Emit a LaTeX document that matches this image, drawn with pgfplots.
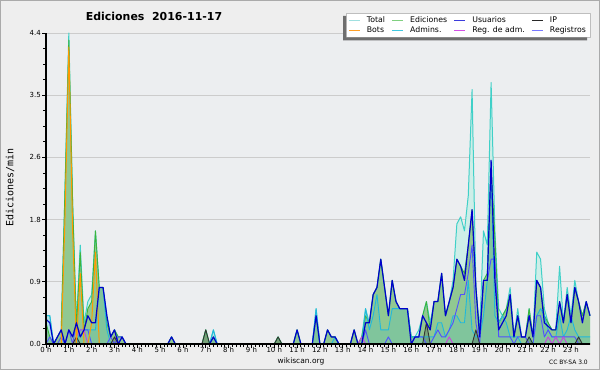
\documentclass[border=0pt]{standalone}
\usepackage{pgfplots}
\pgfplotsset{compat=1.18}
\usepackage{pgfplotstable}
\usepackage{fontspec}
\setmainfont{DejaVu Sans}
\newfontfamily\monofont{DejaVu Sans Mono}
\usetikzlibrary{calc}
\definecolor{bgout}{RGB}{238,238,238}
\definecolor{plotbg}{RGB}{236,238,240}
\definecolor{gridc}{RGB}{204,204,204}
\definecolor{totline}{RGB}{64,208,200}
\definecolor{totfill}{RGB}{206,238,232}
\definecolor{edfill}{RGB}{145,200,145}
\definecolor{edline}{RGB}{60,180,60}
\definecolor{usu}{RGB}{0,0,204}
\definecolor{ipc}{RGB}{50,50,50}
\definecolor{bots}{RGB}{255,153,0}
\definecolor{adm}{RGB}{32,184,220}
\definecolor{regadm}{RGB}{204,64,224}
\definecolor{reg}{RGB}{80,80,255}
\definecolor{lgTot}{RGB}{160,224,224}
\definecolor{lgEd}{RGB}{128,208,128}
\definecolor{lgUsu}{RGB}{60,60,220}
\definecolor{lgIP}{RGB}{40,40,40}
\definecolor{lgBots}{RGB}{255,160,40}
\definecolor{lgAdm}{RGB}{64,200,224}
\definecolor{lgRA}{RGB}{210,80,230}
\definecolor{lgReg}{RGB}{120,120,255}
\definecolor{frame}{RGB}{170,170,170}
\definecolor{legdraw}{RGB}{190,190,190}
\definecolor{shadowc}{RGB}{110,110,110}

\pgfplotstableread{
i T E U I B A R G
0 0.4 0.3 0.35 0 0 0.4 0 0
1 0.4 0.1 0.3 0 0 0.4 0 0.1
2 0 0 0 0 0 0 0 0
3 0.1 0.1 0.1 0 0 0 0 0
4 0.2 0.2 0.2 0 0 0 0 0.1
5 2.2 2.2 0 0 1.8 0 0 0
6 4.4 4.3 0.2 0 4.2 0 0 0.2
7 2.0 2.0 0.1 0 1.6 0 0 0
8 0.3 0.2 0.3 0.1 0 0 0.1 0.3
9 1.4 1.3 0.1 0 1.0 0.2 0.2 0.1
10 0.3 0.2 0.2 0 0 0.2 0.2 0.2
11 0.6 0.5 0.4 0 0 0.2 0 0.2
12 0.7 0.6 0.3 0 0.3 0.2 0 0
13 1.6 1.6 0.3 0 1.3 0.2 0 0
14 0.8 0.8 0.8 0 0 0.8 0 0
15 0.8 0.8 0.8 0 0 0.8 0 0
16 0.4 0.3 0.4 0 0 0.2 0 0
17 0.1 0.1 0.1 0 0 0 0 0.1
18 0.2 0.2 0.2 0.1 0 0 0 0
19 0.1 0.1 0 0 0 0 0 0.1
20 0.1 0.1 0.1 0 0 0 0 0.1
21 0 0 0 0 0 0 0 0
22 0 0 0 0 0 0 0 0
23 0 0 0 0 0 0 0 0
24 0 0 0 0 0 0 0 0
25 0 0 0 0 0 0 0 0
26 0 0 0 0 0 0 0 0
27 0 0 0 0 0 0 0 0
28 0 0 0 0 0 0 0 0
29 0 0 0 0 0 0 0 0
30 0 0 0 0 0 0 0 0
31 0 0 0 0 0 0 0 0
32 0 0 0 0 0 0 0 0
33 0.1 0.1 0.1 0 0 0 0 0
34 0 0 0 0 0 0 0 0
35 0 0 0 0 0 0 0 0
36 0 0 0 0 0 0 0 0
37 0 0 0 0 0 0 0 0
38 0 0 0 0 0 0 0 0
39 0 0 0 0 0 0 0 0
40 0 0 0 0 0 0 0 0
41 0 0 0 0 0 0 0 0
42 0.2 0.2 0 0.2 0 0 0 0
43 0 0 0 0 0 0 0 0
44 0.2 0.1 0.1 0 0 0.2 0 0
45 0 0 0 0 0 0 0 0
46 0 0 0 0 0 0 0 0
47 0 0 0 0 0 0 0 0
48 0 0 0 0 0 0 0 0
49 0 0 0 0 0 0 0 0
50 0 0 0 0 0 0 0 0
51 0 0 0 0 0 0 0 0
52 0 0 0 0 0 0 0 0
53 0 0 0 0 0 0 0 0
54 0 0 0 0 0 0 0 0
55 0 0 0 0 0 0 0 0
56 0 0 0 0 0 0 0 0
57 0 0 0 0 0 0 0 0
58 0 0 0 0 0 0 0 0
59 0 0 0 0 0 0 0 0
60 0 0 0 0 0 0 0 0
61 0.1 0.1 0 0.1 0 0 0 0
62 0 0 0 0 0 0 0 0
63 0 0 0 0 0 0 0 0
64 0 0 0 0 0 0 0 0
65 0 0 0 0 0 0 0 0
66 0.2 0.2 0.2 0 0 0 0 0
67 0 0 0 0 0 0 0 0
68 0 0 0 0 0 0 0 0
69 0 0 0 0 0 0 0 0
70 0 0 0 0 0 0 0 0
71 0.5 0.4 0.4 0 0 0.5 0 0
72 0 0 0 0 0 0 0 0
73 0 0 0 0 0 0 0 0
74 0.2 0.2 0.2 0 0 0 0 0
75 0.1 0.1 0.1 0 0 0 0 0
76 0.1 0.1 0.1 0 0 0.1 0 0
77 0 0 0 0 0 0 0 0
78 0 0 0 0 0 0 0 0
79 0 0 0 0 0 0 0 0
80 0 0 0 0 0 0 0 0
81 0.2 0.2 0.2 0 0 0 0 0
82 0 0 0 0 0 0 0 0
83 0.1 0.1 0 0 0 0 0.1 0
84 0.5 0.4 0.3 0 0 0.5 0 0.2
85 0.3 0.3 0.3 0 0 0.2 0 0
86 0.7 0.7 0.7 0 0 0.4 0 0
87 0.8 0.8 0.8 0 0 0.7 0 0
88 1.2 1.2 1.2 0 0 0.2 0 0
89 0.8 0.8 0.8 0 0 0.2 0 0
90 0.4 0.4 0.4 0 0 0.2 0 0.1
91 0.9 0.9 0.9 0 0 0.5 0 0
92 0.6 0.6 0.6 0 0 0.5 0 0
93 0.5 0.5 0.5 0 0 0.5 0 0
94 0.5 0.5 0.5 0 0 0.5 0 0
95 0.5 0.5 0.5 0 0 0.5 0 0
96 0.1 0.1 0 0 0 0.1 0 0
97 0.1 0.1 0.1 0 0 0.1 0 0.1
98 0.2 0.1 0.1 0 0 0.1 0 0.1
99 0.4 0.4 0.4 0 0 0.1 0 0.1
100 0.6 0.6 0.3 0.3 0 0.1 0 0
101 0.3 0.2 0.2 0 0 0.1 0 0
102 0.6 0.6 0.6 0 0 0.1 0 0.1
103 0.6 0.6 0.6 0 0 0.3 0 0.2
104 1.0 1.0 1.0 0 0 0.3 0 0.1
105 0.4 0.4 0.4 0 0 0.1 0 0.1
106 0.6 0.6 0.6 0 0 0.2 0.1 0.2
107 0.9 0.8 0.8 0 0 0.4 0 0.3
108 1.7 1.2 1.2 0 0 0.4 0 0.5
109 1.8 1.1 1.1 0 0 0.3 0 0.7
110 1.6 1.0 0.9 0 0 0.3 0 0.7
111 2.1 1.4 1.4 0 0 0.9 0 1.0
112 3.6 1.9 1.9 0 0 0.2 0 1.4
113 0.8 0.8 0.8 0.2 0 0.1 0 0.3
114 0.2 0.1 0.1 0 0 0.1 0 0
115 1.6 0.9 0.9 0 0 0.4 0 0.9
116 1.4 1.0 0.9 0 0 0.9 0 0.9
117 3.7 2.5 2.6 0 0 2.5 0 1.2
118 1.6 1.5 0.9 0 0 0.4 0 1.2
119 0.5 0.3 0.2 0 0 0.3 0 0.1
120 0.4 0.4 0.3 0 0 0.4 0 0.1
121 0.5 0.5 0.4 0 0 0.3 0 0.1
122 0.8 0.7 0.7 0 0 0.1 0 0.1
123 0.1 0.1 0.1 0 0 0.1 0 0
124 0.5 0.4 0.4 0 0 0.1 0 0.1
125 0.1 0.1 0.1 0 0 0 0 0.1
126 0.1 0.1 0.1 0 0 0 0 0.1
127 0.5 0.5 0.4 0.1 0 0.1 0 0
128 0.1 0.1 0.1 0 0 0 0 0
129 1.3 0.9 0.9 0 0 0.4 0 0.4
130 1.2 0.8 0.8 0 0 0.5 0 0.4
131 0.5 0.4 0.3 0 0 0.4 0 0.1
132 0.3 0.3 0.25 0 0 0.2 0.1 0.2
133 0.2 0.2 0.2 0 0 0.1 0 0.1
134 0.2 0.2 0.2 0 0 0.1 0.1 0.1
135 1.1 0.6 0.6 0 0 0.4 0 0.1
136 0.3 0.3 0.3 0 0 0.1 0.1 0.1
137 0.8 0.7 0.7 0 0 0.2 0 0.1
138 0.4 0.3 0.3 0 0 0.4 0 0.1
139 0.9 0.8 0.8 0 0 0.2 0 0.1
140 0.6 0.6 0.6 0.1 0 0.1 0 0
141 0.4 0.4 0.3 0 0 0.1 0 0
142 0.6 0.6 0.6 0 0 0.1 0 0
143 0.4 0.4 0.4 0 0 0.1 0 0
}\data

\begin{document}
\begin{tikzpicture}[x=1bp,y=1bp]
\fill[bgout] (0,0) rectangle (600,370);
\draw[frame, line width=1bp] (0.5,0.5) rectangle (599.5,369.5);
\begin{axis}[
  at={(46bp,26bp)}, anchor=south west,
  scale only axis, width=544bp, height=311bp,
  clip=false,
  xmin=0, xmax=143, ymin=0, ymax=4.4,
  axis x line*=bottom, axis y line*=left,
  axis line style={line width=1.1bp, black},
  axis background/.style={fill=plotbg},
  xtick={0,6,...,138},
  xticklabels={0 h,1 h,2 h,3 h,4 h,5 h,6 h,7 h,8 h,9 h,10 h,11 h,12 h,13 h,14 h,15 h,16 h,17 h,18 h,19 h,20 h,21 h,22 h,23 h},
  minor x tick num=5,
  ytick={0,0.88,1.76,2.64,3.52,4.4},
  yticklabels={0.0,0.9,1.8,2.6,3.5,4.4},
  minor y tick num=3,
  tick align=outside,
  major tick length=4bp, minor tick length=3bp,
  tick style={black, line width=0.8bp},
  ymajorgrids,
  major grid style={gridc, line width=0.9bp},
  /pgf/number format/assume math mode=true,
  tick label style={font=\fontsize{7}{8}\selectfont},
  xticklabel style={inner sep=0.5bp, yshift=1.5bp},
  yticklabel style={inner sep=1bp},
  legend columns=4,
  legend cell align=left,
  legend image code/.code={\draw[#1] (0bp,0bp) -- (11bp,0bp);},
  legend style={at={(1.0,1.065)}, anchor=north east, name=leg,
    draw=legdraw, fill=white,
    font=\fontsize{7.8}{8.8}\selectfont,
    inner xsep=2bp, inner ysep=1.5bp,
    column sep=4.6bp, row sep=-1.5bp},
  line join=round,
]
\addlegendimage{lgTot, line width=1bp}\addlegendentry{Total}
\addlegendimage{lgEd, line width=1bp}\addlegendentry{Ediciones}
\addlegendimage{lgUsu, line width=1bp}\addlegendentry{Usuarios}
\addlegendimage{lgIP, line width=1bp}\addlegendentry{IP}
\addlegendimage{lgBots, line width=1bp}\addlegendentry{Bots}
\addlegendimage{lgAdm, line width=1bp}\addlegendentry{Admins.}
\addlegendimage{lgRA, line width=1bp}\addlegendentry{Reg. de adm.}
\addlegendimage{lgReg, line width=1bp}\addlegendentry{Registros}

\addplot[fill=totfill, draw=none, forget plot] table[x=i,y=T]{\data} \closedcycle;
\addplot[fill=edfill, draw=none, forget plot] table[x=i,y=E]{\data} \closedcycle;
\addplot[fill=adm, fill opacity=0.15, draw=none, forget plot] table[x=i,y=A]{\data} \closedcycle;
\addplot[fill=ipc, fill opacity=0.25, draw=none, forget plot] table[x=i,y=I]{\data} \closedcycle;
\addplot[totline, line width=1bp, forget plot] table[x=i,y=T]{\data};
\addplot[edline, line width=0.9bp, forget plot] table[x=i,y=E]{\data};
\addplot[adm, line width=0.9bp, forget plot] table[x=i,y=A]{\data};
\addplot[reg, line width=0.9bp, forget plot] table[x=i,y=G]{\data};
\addplot[regadm, line width=0.9bp, forget plot] table[x=i,y=R]{\data};
\addplot[ipc, line width=0.9bp, forget plot] table[x=i,y=I]{\data};
\addplot[bots, line width=1bp, forget plot] table[x=i,y=B]{\data};
\addplot[usu, line width=1.2bp, forget plot] table[x=i,y=U]{\data};
\draw[black, line width=1.1bp] (rel axis cs:0,1) -- (rel axis cs:0,0) -- (rel axis cs:1,0);
\end{axis}
\fill[shadowc] ($(leg.north west)+(-3,-3)$) -- ($(leg.south west)+(-3,-3)$) -- ($(leg.south east)+(-3,-3)$) -- ($(leg.south east)+(-3,0)$) -- (leg.south west) -- ($(leg.north west)+(0,-3)$) -- cycle;
\node[font=\bfseries\fontsize{11}{13}\selectfont] at (154,353.5) {Ediciones\ \ 2016-11-17};
\node[rotate=90, font=\monofont\fontsize{10}{12}\selectfont] at (10,182.5) {Ediciones/min};
\node[font=\fontsize{7.5}{9}\selectfont] at (301,8.5) {wikiscan.org};
\node[font=\fontsize{6}{7}\selectfont] at (568.5,8) {CC BY-SA 3.0};
\end{tikzpicture}
\end{document}
